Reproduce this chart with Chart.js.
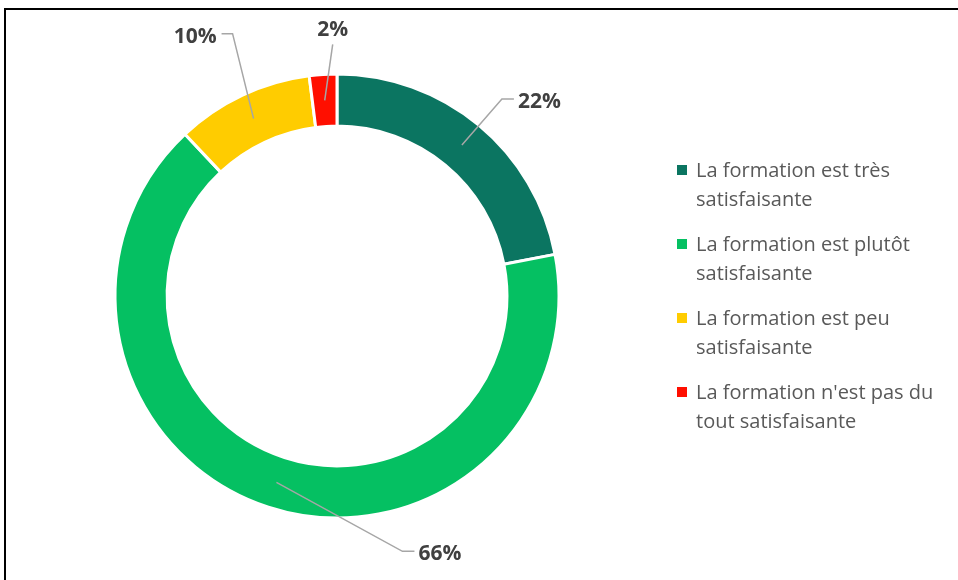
<!DOCTYPE html>
<html>
<head>
<meta charset="utf-8">
<script src="https://cdn.jsdelivr.net/npm/chart.js@4.4.1/dist/chart.umd.min.js"></script>
<style>
    html, body { margin: 0; padding: 0; background: #fff; }
    #wrap { position: relative; width: 958px; height: 580px; overflow: hidden; }
    #frame { position: absolute; left: 4px; top: 8px; width: 1000px; height: 1000px; border: 2px solid #000; box-sizing: border-box; }
    #myChart { position: absolute; left: 0; top: 0; }
    #legend { position: absolute; left: 677px; top: 155px; width: 275px; font-family: "Open Sans", sans-serif; font-size: 20px; color: #595959; }
    .item { position: relative; padding-left: 19px; line-height: 29px; margin-bottom: 16px; }
    .box { position: absolute; left: 0; top: 10px; width: 10px; height: 10px; }
</style>
</head>
<body>
<div id="wrap">
    <div id="frame"></div>
    <canvas id="myChart" width="958" height="580"></canvas>
    <div id="legend"></div>
</div>
<script>
const categories = [
    "La formation est très satisfaisante",
    "La formation est plutôt satisfaisante",
    "La formation est peu satisfaisante",
    "La formation n'est pas du tout satisfaisante",
];
const percents = [22, 66, 10, 2];
const colors = ["#0b7561", "#05c062", "#ffcc00", "#ff0f00"];

// label placement: [elbow dx, elbow dy, tail dx, text align] relative to the arc anchor
const labelLayout = [
    [40, -46, 12, "left"],
    [126, 69, 12, "left"],
    [-21, -85, -11, "right"],
    [8, -56, 0, "center"],
];

const leaderLabels = {
    id: "leaderLabels",
    afterDatasetsDraw(chart) {
        const ctx = chart.ctx;
        const meta = chart.getDatasetMeta(0);
        meta.data.forEach((arc, i) => {
            const mid = (arc.startAngle + arc.endAngle) / 2;
            const r = (arc.innerRadius + arc.outerRadius) / 2;
            const ax = arc.x + Math.cos(mid) * r;
            const ay = arc.y + Math.sin(mid) * r;
            const [dx, dy, tail, align] = labelLayout[i];
            const ex = ax + dx, ey = ay + dy;
            ctx.save();
            ctx.strokeStyle = "#a6a6a6";
            ctx.lineWidth = 1.5;
            ctx.beginPath();
            ctx.moveTo(ax, ay);
            ctx.lineTo(ex, ey);
            if (tail) ctx.lineTo(ex + tail, ey);
            ctx.stroke();
            ctx.fillStyle = "#404040";
            ctx.font = "bold 21px 'Open Sans', sans-serif";
            ctx.textBaseline = "middle";
            ctx.textAlign = align;
            let tx = ex + tail, ty = ey + 3;
            if (align === "left") tx += 4;
            if (align === "right") tx -= 5;
            if (align === "center") ty = ey - 14;
            ctx.fillText(percents[i] + "%", tx, ty);
            ctx.restore();
        });
    },
};

new Chart(document.getElementById("myChart"), {
    type: "doughnut",
    data: {
        labels: categories,
        datasets: [{
            data: percents,
            backgroundColor: colors,
            borderColor: "#ffffff",
            borderWidth: 3,
        }],
    },
    options: {
        responsive: false,
        animation: false,
        radius: 222,
        cutout: 168,
        layout: { padding: { left: 116, right: 400, top: 75, bottom: 63 } },
        plugins: {
            legend: { display: false },
            tooltip: { enabled: false },
        },
    },
    plugins: [leaderLabels],
});

const legend = document.getElementById("legend");
categories.forEach((c, i) => {
    const item = document.createElement("div");
    item.className = "item";
    const box = document.createElement("span");
    box.className = "box";
    box.style.background = colors[i];
    item.appendChild(box);
    item.appendChild(document.createTextNode(c));
    legend.appendChild(item);
});
</script>
</body>
</html>
